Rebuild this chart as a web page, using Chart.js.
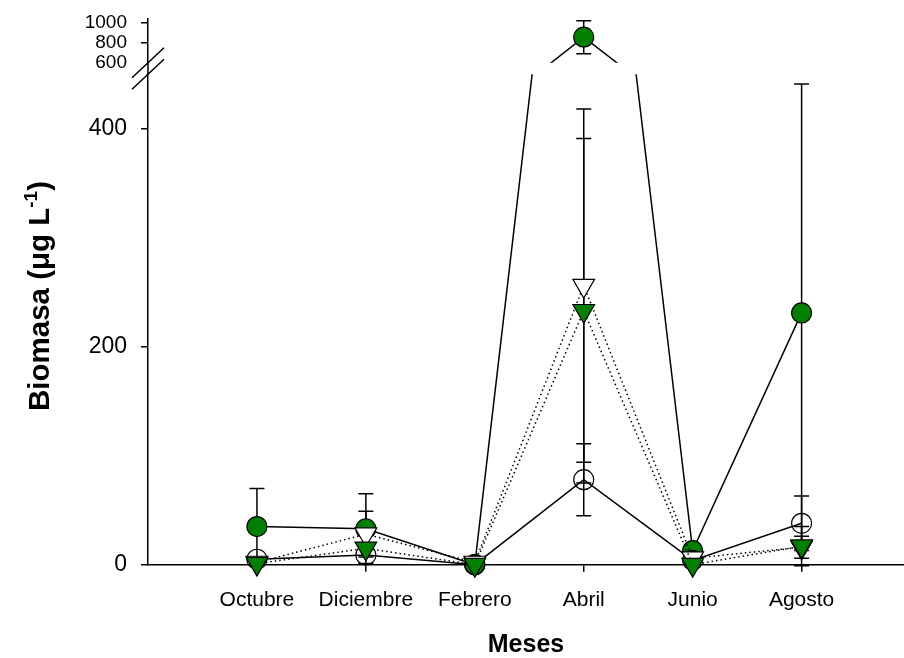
<!DOCTYPE html>
<html>
<head>
<meta charset="utf-8">
<script src="https://cdn.jsdelivr.net/npm/chart.js@4.4.0/dist/chart.umd.min.js"></script>
<style>
  html, body { margin: 0; padding: 0; background: #fff; overflow: hidden; }
  #wrap { position: relative; width: 904px; height: 658px; }
  #wrap canvas { position: absolute; left: 0; top: 0; }
</style>
</head>
<body>
<div id="wrap">
  <canvas id="lower" width="904" height="658"></canvas>
  <canvas id="upper" width="904" height="658"></canvas>
</div>
<script>
// Sampling months
const categories = ['Octubre', 'Diciembre', 'Febrero', 'Abril', 'Junio', 'Agosto'];

// Biomass (µg L-1) means and standard deviations per series
const greenCircle     = [35, 33, 0, 855, 13, 231];
const greenCircleSd   = [35, 32, 0, 165, 0, 210];
const openCircle      = [5, 9, 0, 78, 4, 38];
const openCircleSd    = [0, 0, 0, 33, 0, 25];
const openTriangle    = [2, 28, 2, 256, 6, 16];
const openTriangleSd  = [0, 21, 0, 162, 0, 10];
const greenTriangle   = [1, 15, 0, 233, 0, 17];
const greenTriangleSd = [0, 0, 0, 158, 0, 18];

// Broken y axis: lower and upper segments
const lowerTicks = [0, 200, 400];
const upperTicks = [600, 800, 1000];
const lowerRange = [0, 450];
const upperRange = [600, 1044];

// Layout (pixels)
const W = 904, H = 658;
const AXIS_LEFT = 148;
const LO_TOP = 74.2, LO_BOTTOM = 564.7;
const HI_TOP = 18.3, HI_BOTTOM = 62.7;
const X_MAX = 6.94;

const GREEN = '#008000';
const FONT = '"Liberation Sans", Arial, Helvetica, sans-serif';
Chart.defaults.font.family = FONT;
Chart.defaults.color = '#000';

function pts(values) {
  return values.map((v, i) => ({ x: i + 1, y: v }));
}

function makeDatasets(clip) {
  const common = {
    borderColor: '#000',
    pointBorderColor: '#000',
    pointBorderWidth: 1.2,
    pointHoverRadius: 0,
    tension: 0,
    fill: false,
    clip: clip
  };
  return [
    Object.assign({}, common, {
      label: 'greenCircle', data: pts(greenCircle), sd: greenCircleSd, order: 4,
      borderWidth: 1.5, pointStyle: 'circle', pointRadius: 10,
      pointBackgroundColor: GREEN
    }),
    Object.assign({}, common, {
      label: 'openCircle', data: pts(openCircle), sd: openCircleSd, order: 3,
      borderWidth: 1.5, pointStyle: 'circle', pointRadius: 10,
      pointBackgroundColor: 'rgba(0,0,0,0)'
    }),
    Object.assign({}, common, {
      label: 'openTriangle', data: pts(openTriangle), sd: openTriangleSd, order: 2,
      borderWidth: 1.5, borderDash: [1.5, 3], pointStyle: 'triangle', pointRotation: 180,
      pointRadius: 12.5, pointBackgroundColor: '#fff'
    }),
    Object.assign({}, common, {
      label: 'greenTriangle', data: pts(greenTriangle), sd: greenTriangleSd, order: 1,
      borderWidth: 1.5, borderDash: [1.5, 3], pointStyle: 'triangle', pointRotation: 180,
      pointRadius: 12.5, pointBackgroundColor: GREEN
    })
  ];
}

// Error bars, drawn behind the markers and limited to the segment's band
const errorBars = {
  id: 'errorBars',
  beforeDatasetsDraw(chart, args, opts) {
    const { ctx, chartArea } = chart;
    const x = chart.scales.x, y = chart.scales.y;
    const top = opts.openTop ? 0 : chartArea.top;
    const bottom = opts.openBottom ? chart.height : chartArea.bottom;
    ctx.save();
    ctx.beginPath();
    ctx.rect(0, top, chart.width, bottom - top);
    ctx.clip();
    ctx.strokeStyle = '#000';
    ctx.lineWidth = 1.5;
    chart.data.datasets.forEach(ds => {
      ds.data.forEach((p, i) => {
        const sd = ds.sd[i];
        if (!sd) return;
        const px = x.getPixelForValue(p.x);
        const y1 = y.getPixelForValue(p.y + sd);
        const y2 = y.getPixelForValue(p.y - sd);
        ctx.beginPath();
        ctx.moveTo(px, y1); ctx.lineTo(px, y2);
        ctx.moveTo(px - 7.5, y1); ctx.lineTo(px + 7.5, y1);
        ctx.moveTo(px - 7.5, y2); ctx.lineTo(px + 7.5, y2);
        ctx.stroke();
      });
    });
    ctx.restore();
  }
};

// Rotated y-axis title with superscript
const yTitle = {
  id: 'yTitle',
  afterDraw(chart) {
    const ctx = chart.ctx;
    const size = 29.5;
    const supSize = 19;
    const parts = [
      { t: 'Biomasa (\u03bcg L', s: size, dy: 0 },
      { t: '-1', s: supSize, dy: -0.42 * size },
      { t: ')', s: size, dy: 0 }
    ];
    ctx.save();
    let total = 0;
    parts.forEach(p => { ctx.font = 'bold ' + p.s + 'px ' + FONT; p.w = ctx.measureText(p.t).width; total += p.w; });
    ctx.translate(49, 296);
    ctx.rotate(-Math.PI / 2);
    ctx.fillStyle = '#000';
    ctx.textBaseline = 'alphabetic';
    ctx.textAlign = 'left';
    let cx = -total / 2;
    parts.forEach(p => {
      ctx.font = 'bold ' + p.s + 'px ' + FONT;
      ctx.fillText(p.t, cx, p.dy);
      cx += p.w;
    });
    ctx.restore();
  }
};

// Axis break marks between the two segments
const axisBreak = {
  id: 'axisBreak',
  afterDraw(chart) {
    const { ctx, chartArea } = chart;
    const x0 = chartArea.left;
    ctx.save();
    ctx.strokeStyle = '#000';
    ctx.lineWidth = 1.5;
    ctx.beginPath();
    ctx.moveTo(x0, chartArea.bottom);
    ctx.lineTo(x0, LO_TOP);
    [chartArea.bottom, LO_TOP].forEach(yc => {
      ctx.moveTo(x0 - 16, yc + 15);
      ctx.lineTo(x0 + 16, yc - 15);
    });
    ctx.stroke();
    ctx.restore();
  }
};

function xScale(show) {
  return {
    type: 'linear',
    display: show,
    min: 0,
    max: X_MAX,
    afterBuildTicks: s => { s.ticks = categories.map((c, i) => ({ value: i + 1 })); },
    ticks: {
      callback: v => categories[v - 1],
      font: { size: 21 },
      color: '#000',
      padding: 16,
      maxRotation: 0,
      autoSkip: false
    },
    grid: { drawOnChartArea: false, drawTicks: true, tickLength: 7, color: '#000', lineWidth: 1.5 },
    border: { display: true, color: '#000', width: 1.5 },
    title: {
      display: show,
      text: 'Meses',
      font: { size: 25, weight: 'bold', lineHeight: 1 },
      color: '#000',
      padding: { top: 0, bottom: 0 }
    },
    afterFit: s => { if (show) s.height = H - LO_BOTTOM; }
  };
}

function yScale(range, tickValues, fontSize, hiddenTick) {
  return {
    type: 'linear',
    min: range[0],
    max: range[1],
    afterBuildTicks: s => { s.ticks = tickValues.map(v => ({ value: v })); },
    ticks: {
      font: { size: fontSize }, color: '#000', padding: 14,
      autoSkip: false, callback: v => String(v)
    },
    grid: {
      drawOnChartArea: false, drawTicks: true, tickLength: 7, lineWidth: 1.5,
      tickColor: c => (c.tick && c.tick.value === hiddenTick ? 'rgba(0,0,0,0)' : '#000')
    },
    border: { display: true, color: '#000', width: 1.5 },
    afterFit: s => {
      s.width = AXIS_LEFT;
      // the layout padding alone fixes the plot band
      s.paddingTop = 0;
      s.paddingBottom = 0;
    }
  };
}

const baseOptions = {
  responsive: false,
  animation: false,
  devicePixelRatio: 1,
  events: [],
  plugins: { legend: { display: false }, tooltip: { enabled: false } }
};

// Lower segment: 0–450
new Chart(document.getElementById('lower'), {
  type: 'line',
  data: { datasets: makeDatasets({ left: false, right: false, top: 0, bottom: false }) },
  options: Object.assign({}, baseOptions, {
    layout: { autoPadding: false, padding: { top: LO_TOP, left: 0, right: 0, bottom: 0 } },
    scales: { x: xScale(true), y: yScale(lowerRange, lowerTicks, 23, null) },
    plugins: Object.assign({}, baseOptions.plugins, { errorBars: { openBottom: true } })
  }),
  plugins: [errorBars, yTitle]
});

// Upper segment: 600–1000
new Chart(document.getElementById('upper'), {
  type: 'line',
  data: { datasets: makeDatasets({ left: false, right: false, top: false, bottom: 0 }) },
  options: Object.assign({}, baseOptions, {
    layout: { autoPadding: false, padding: { top: HI_TOP, left: 0, right: 0, bottom: H - HI_BOTTOM } },
    scales: { x: xScale(false), y: yScale(upperRange, upperTicks, 19, 600) },
    plugins: Object.assign({}, baseOptions.plugins, { errorBars: { openTop: true } })
  }),
  plugins: [errorBars, axisBreak]
});
</script>
</body>
</html>
